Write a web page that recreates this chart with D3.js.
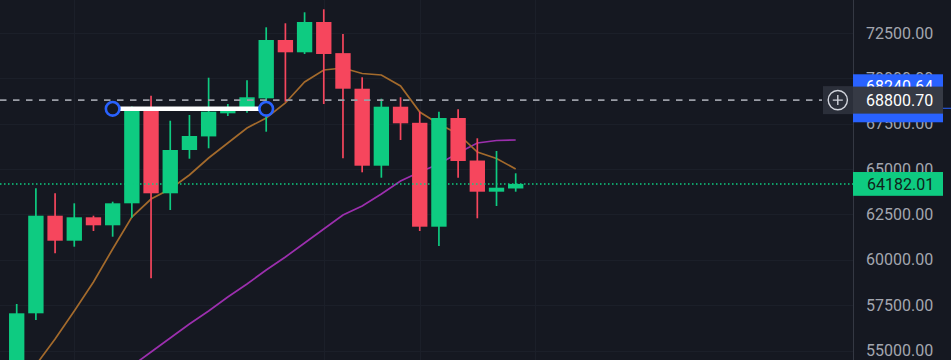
<!DOCTYPE html>
<html><head><meta charset="utf-8">
<script src="https://cdn.jsdelivr.net/npm/d3@7"></script>
<style>
html,body{margin:0;padding:0;background:#151821;overflow:hidden}
svg{display:block}
text{font-family:Roboto,"Noto Sans",sans-serif}
</style></head><body>
<svg id="c" width="951" height="360"></svg>
<script>
// ---- data ----
const dates = ["2024-02-27","2024-02-28","2024-02-29","2024-03-01","2024-03-02","2024-03-03","2024-03-04","2024-03-05","2024-03-06","2024-03-07","2024-03-08","2024-03-09","2024-03-10","2024-03-11","2024-03-12","2024-03-13","2024-03-14","2024-03-15","2024-03-16","2024-03-17","2024-03-18","2024-03-19","2024-03-20","2024-03-21","2024-03-22","2024-03-23","2024-03-24"];
const openP  = [54200,57050,62430,61052,62342,61901,63113,68240,63665,66051,66800,68074,68295,68900,72114,71436,73106,71390,69430,65186,68438,67550,61824,67815,65470,63753,63930];
const highP  = [57563,63940,63665,63113,62430,63202,68450,69044,67666,67980,70036,68587,69893,72814,73035,73641,73806,72445,70058,68879,68956,68162,68162,68295,66696,65996,64767];
const lowP   = [53900,56681,60358,60721,61587,61272,62320,58980,62744,65572,66145,67925,68100,67060,68713,71343,68587,65594,64822,64524,66602,61587,60760,64524,62287,62965,63753];
const closeP = [57050,62430,61052,62342,61901,63113,68240,63665,66051,66823,68162,68295,68956,72114,71436,73106,71343,69430,65186,68438,67523,61824,67815,65445,63753,63973,64182.01];
const maFast = [52823,54201,55634,57177,58776,60595,62358,63350,63902,64673,65610,66437,67264,67815,68642,69799,70461,70571,70268,70185,69579,68146,67484,66933,65941,65583,65004];
const maSlow = [null,null,null,null,null,null,54146,54917,55689,56461,57177,57949,58665,59437,60154,60925,61697,62469,62965,63626,64343,64839,65280,65886,66437,66575,66602];
const priceTicks = [55000,57500,60000,62500,65000,67500,70000,72500];
const gridDates = ["2024-03-01","2024-03-14","2024-03-19","2024-03-25"];
const lastPrice = 64182.01;
const crosshairPrice = 68800.70;
const linePrice = 68240.64;
const lineStart = "2024-03-03", lineEnd = "2024-03-11";

// ---- drawing ----
const W = 951, H = 360, axisX = 853;
const parse = d3.utcParse("%Y-%m-%d");
const x = d3.scaleUtc().domain([parse(dates[0]), parse(dates[dates.length-1])]).range([16.7, 515.7]);
const y = d3.scaleLinear().domain([55000, 72500]).range([350.5, 33]);
const step = x(parse(dates[1])) - x(parse(dates[0]));
const bodyW = step * 0.8;
const UP = "#0ecb81", DOWN = "#f6465d";

const svg = d3.select("#c");
svg.append("rect").attr("width", W).attr("height", H).attr("fill", "#151821");
svg.append("defs").append("clipPath").attr("id", "plot")
  .append("rect").attr("x", 0).attr("y", 0).attr("width", axisX).attr("height", H);

const plot = svg.append("g").attr("clip-path", "url(#plot)");

// grid
plot.append("g").selectAll("line").data(priceTicks).join("line")
  .attr("x1", 0).attr("x2", axisX).attr("y1", d => Math.round(y(d)) + 0.5).attr("y2", d => Math.round(y(d)) + 0.5)
  .attr("stroke", "#1b1f29").attr("stroke-width", 1);
plot.append("g").selectAll("line").data(gridDates).join("line")
  .attr("x1", d => Math.round(x(parse(d))) + 0.5).attr("x2", d => Math.round(x(parse(d))) + 0.5)
  .attr("y1", 0).attr("y2", H)
  .attr("stroke", "#1b1f29").attr("stroke-width", 1);

const idx = d3.range(dates.length);

// moving averages
const lineGen = d3.line().defined(d => d.v != null).x(d => d.x).y(d => y(d.v)).curve(d3.curveLinear);
plot.append("path")
  .attr("d", lineGen(idx.map(i => ({x: x(parse(dates[i])), v: maSlow[i]}))))
  .attr("fill", "none").attr("stroke", "#9c2fae").attr("stroke-width", 1.7);
plot.append("path")
  .attr("d", lineGen(idx.map(i => ({x: x(parse(dates[i])), v: maFast[i]}))))
  .attr("fill", "none").attr("stroke", "#a36a2c").attr("stroke-width", 1.7);

// candles
const cg = plot.append("g").selectAll("g").data(idx).join("g");
cg.append("line")
  .attr("x1", i => x(parse(dates[i]))).attr("x2", i => x(parse(dates[i])))
  .attr("y1", i => y(highP[i])).attr("y2", i => y(lowP[i]))
  .attr("stroke", i => closeP[i] >= openP[i] ? UP : DOWN).attr("stroke-width", 1.7);
cg.append("rect")
  .attr("x", i => x(parse(dates[i])) - bodyW / 2).attr("width", bodyW)
  .attr("y", i => y(Math.max(openP[i], closeP[i])))
  .attr("height", i => Math.max(1.5, Math.abs(y(openP[i]) - y(closeP[i]))))
  .attr("fill", i => closeP[i] >= openP[i] ? UP : DOWN);

// last price dotted line
plot.append("line")
  .attr("x1", 0).attr("x2", axisX).attr("y1", y(lastPrice)).attr("y2", y(lastPrice))
  .attr("stroke", UP).attr("stroke-width", 1.5).attr("stroke-dasharray", "1.5,2.5");

// horizontal drawing
const xs = x(parse(lineStart)), xe = x(parse(lineEnd));
plot.append("line")
  .attr("x1", xs).attr("x2", xe).attr("y1", y(linePrice) - 1.5).attr("y2", y(linePrice) - 1.5)
  .attr("stroke", "#ffffff").attr("stroke-width", 4.5);
plot.selectAll("circle.h").data([xs, xe]).join("circle").attr("class", "h")
  .attr("cx", d => d).attr("cy", y(linePrice) - 1.5).attr("r", 6.8)
  .attr("fill", "#151821").attr("stroke", "#2962ff").attr("stroke-width", 2.6);

// crosshair dashed line
svg.append("line")
  .attr("x1", 0).attr("x2", 822).attr("y1", y(crosshairPrice)).attr("y2", y(crosshairPrice))
  .attr("stroke", "#9a9da6").attr("stroke-width", 1.6).attr("stroke-dasharray", "6.5,6.5");

// price axis
svg.append("line").attr("x1", axisX + 0.5).attr("x2", axisX + 0.5).attr("y1", 0).attr("y2", H)
  .attr("stroke", "#343843").attr("stroke-width", 1);
svg.append("g").selectAll("text").data(priceTicks).join("text")
  .attr("x", 866).attr("y", d => y(d)).attr("dy", "0.35em")
  .attr("font-size", 16).attr("fill", "#a3a6af")
  .text(d => d3.format(".2f")(d));

// blue labels for the drawing (upper one carries the visible price text)
const ly = y(linePrice);
const blue = [ly - 36, ly - 12];
svg.append("g").selectAll("rect").data(blue).join("rect")
  .attr("x", axisX).attr("y", d => d).attr("width", 90).attr("height", 24).attr("fill", "#2962ff");
svg.append("text")
  .attr("x", 866).attr("y", blue[0] + 12).attr("dy", "0.35em")
  .attr("font-size", 16).attr("fill", "#ffffff").text(d3.format(".2f")(linePrice));
svg.append("line").attr("x1", 943).attr("x2", W).attr("y1", ly - 2).attr("y2", ly - 2)
  .attr("stroke", "#2962ff").attr("stroke-width", 1);

// last price label
svg.append("rect").attr("x", axisX).attr("y", y(lastPrice) - 11.9).attr("width", 90).attr("height", 23.8).attr("fill", UP);
svg.append("text").attr("x", 867).attr("y", y(lastPrice)).attr("dy", "0.35em")
  .attr("font-size", 16).attr("fill", "#10231a").text(d3.format(".2f")(lastPrice));

// crosshair label + plus button
const cy = y(crosshairPrice);
svg.append("rect").attr("x", axisX).attr("y", cy - 13.5).attr("width", 90).attr("height", 27).attr("fill", "#363a45");
svg.append("text").attr("x", 866).attr("y", cy).attr("dy", "0.35em")
  .attr("font-size", 16).attr("fill", "#ffffff").text(d3.format(".2f")(crosshairPrice));
svg.append("rect").attr("x", 823).attr("y", cy - 14).attr("width", 30).attr("height", 28).attr("fill", "#2b2f3a");
svg.append("circle").attr("cx", 837.8).attr("cy", cy).attr("r", 9.6)
  .attr("fill", "none").attr("stroke", "#d1d4dc").attr("stroke-width", 1.4);
svg.append("path").attr("d", `M${837.8-5},${cy}H${837.8+5}M837.8,${cy-5}V${cy+5}`)
  .attr("stroke", "#d1d4dc").attr("stroke-width", 1.4);
</script>
</body></html>
